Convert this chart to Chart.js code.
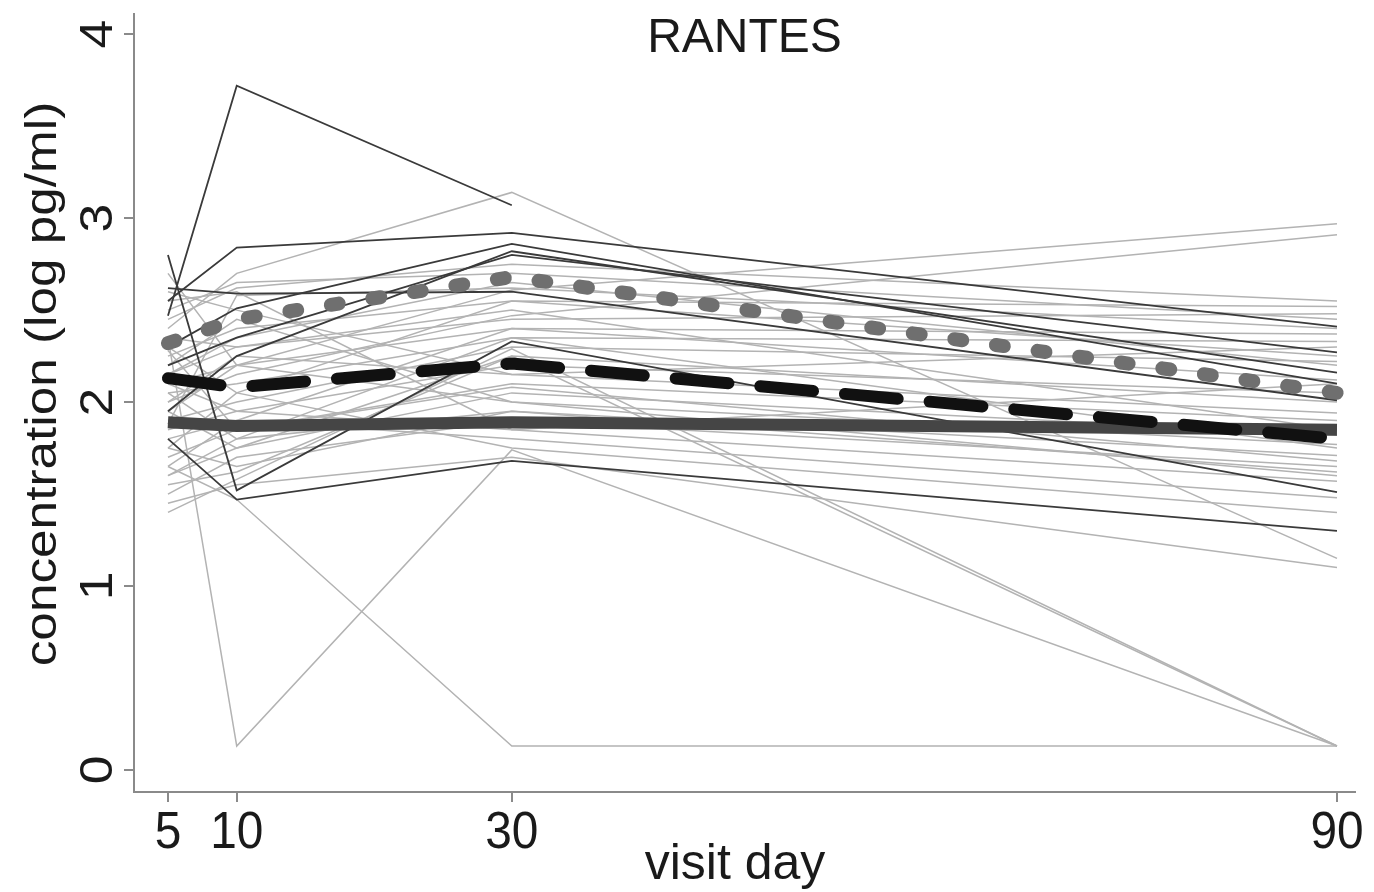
<!DOCTYPE html>
<html>
<head>
<meta charset="utf-8">
<script src="https://cdn.jsdelivr.net/npm/chart.js@4.4.1/dist/chart.umd.min.js"></script>
<style>
  html, body { margin: 0; padding: 0; background: #fff; }
  #wrap { width: 1374px; height: 892px; }
</style>
</head>
<body>
<div id="wrap"><canvas id="chartRantes" width="1374" height="892"></canvas></div>
<script>
// Datos
const days = [5, 10, 30, 90];
const yTicks = [0, 1, 2, 3, 4];

// sujetos (gris claro)
const grey = [
  [2.40, 2.70, 3.14, 1.15],
  [2.35, 0.13, 1.74, 0.13],
  [1.65, 1.47, 0.13, 0.13],
  [1.40, 1.58, 2.29, 0.13],
  [1.55, 1.62, 2.25, 0.13],
  [2.10, 2.20, 2.61, 2.97],
  [2.00, 2.15, 2.47, 2.91],
  [2.45, 2.62, 2.75, 2.55],
  [2.25, 2.40, 2.55, 2.52],
  [2.15, 2.30, 2.45, 2.48],
  [1.95, 2.20, 2.40, 2.37],
  [2.05, 2.10, 2.35, 2.33],
  [1.90, 2.00, 2.30, 2.22],
  [1.85, 1.95, 2.20, 2.05],
  [2.60, 2.50, 2.15, 1.94],
  [1.70, 1.85, 2.10, 1.90],
  [1.60, 1.75, 2.05, 1.82],
  [2.70, 2.20, 2.00, 1.77],
  [1.75, 1.65, 1.95, 1.71],
  [1.50, 1.70, 1.90, 1.65],
  [2.55, 2.60, 1.85, 1.57],
  [1.80, 1.90, 1.80, 1.48],
  [2.30, 2.05, 1.75, 1.40],
  [1.45, 1.55, 1.70, 1.10],
  [2.20, 2.45, 2.00, 1.60],
  [1.95, 1.75, 2.25, 2.00],
  [2.50, 2.65, 2.70, 2.45],
  [2.00, 2.25, 2.15, 2.30],
  [1.60, 1.80, 2.35, 1.75],
  [2.10, 1.95, 1.85, 2.10],
  [2.35, 2.30, 2.50, 1.85],
  [1.88, 2.58, 2.62, 2.40],
  [2.28, 1.85, 2.08, 1.68],
  [2.15, 2.35, 2.65, 2.20],
  [1.75, 2.05, 2.55, 2.25],
  [2.05, 1.80, 1.95, 1.62],
  [1.65, 1.90, 2.40, 2.12]
];

// sujetos (oscuro)
const dark = [
  [2.47, 3.72, 3.07, null],
  [2.55, 2.84, 2.92, 2.41],
  [2.30, 2.51, 2.86, 2.10],
  [2.80, 1.52, 2.33, 1.51],
  [1.80, 1.47, 1.68, 1.30],
  [2.62, 2.59, 2.60, 2.01],
  [2.20, 2.35, 2.80, 2.27],
  [1.95, 2.25, 2.82, 2.16]
];

// resumen
const medianLine = [1.89, 1.87, 1.89, 1.85];
const meanLine = [2.13, 2.08, 2.21, 1.80];
const upperLine = [2.32, 2.45, 2.68, 2.05];

const toPts = vals => days.map((d, i) => ({ x: d, y: vals[i] }));

const datasets = [];
datasets.push({ data: toPts(upperLine), borderColor: '#6f6f6f', borderWidth: 14, borderDash: [8, 34], borderCapStyle: 'round', order: 0 });
datasets.push({ data: toPts(meanLine), borderColor: '#111', borderWidth: 12, borderDash: [53, 32], borderCapStyle: 'round', order: 0 });
datasets.push({ data: toPts(medianLine), borderColor: '#454545', borderWidth: 12, order: 0 });
dark.forEach(v => datasets.push({ data: toPts(v), borderColor: '#3a3a3a', borderWidth: 1.8, order: 1 }));
grey.forEach(v => datasets.push({ data: toPts(v), borderColor: '#b3b3b3', borderWidth: 1.5, order: 2 }));

// Textos
function txt(ctx, s, x, y, rot, sx, font) {
  ctx.save();
  ctx.translate(x, y); ctx.rotate(rot); ctx.scale(sx, 1);
  ctx.font = font; ctx.fillStyle = '#1a1a1a'; ctx.textAlign = 'center'; ctx.textBaseline = 'alphabetic';
  ctx.fillText(s, 0, 0);
  ctx.restore();
}

const labelsPlugin = {
  id: 'labels',
  afterDraw(chart) {
    const ctx = chart.ctx, xs = chart.scales.x, ys = chart.scales.y;
    const fam = '"Liberation Sans", Arial, sans-serif';
    days.forEach(d => txt(ctx, String(d), xs.getPixelForValue(d), 848, 0, 0.92, '52px ' + fam));
    yTicks.forEach(v => txt(ctx, String(v), 112, ys.getPixelForValue(v), -Math.PI / 2, 1.12, '46px ' + fam));
    txt(ctx, 'RANTES', (chart.chartArea.left + chart.chartArea.right) / 2, 52, 0, 1, '48px ' + fam);
    txt(ctx, 'visit day', 735, 879, 0, 1, '50px ' + fam);
    txt(ctx, 'concentration (log pg/ml)', 56, 384, -Math.PI / 2, 1.14, '45px ' + fam);
  }
};

const axisStyle = {
  grid: { display: true, drawOnChartArea: false, drawTicks: true, tickLength: 10, color: '#8a8a8a', lineWidth: 2 },
  border: { display: true, color: '#8a8a8a', width: 2 },
  ticks: { display: false }
};

new Chart(document.getElementById('chartRantes').getContext('2d'), {
  type: 'line',
  data: { datasets: datasets },
  options: {
    responsive: false, animation: false, devicePixelRatio: 1,
    layout: { padding: { top: 14, right: 19, left: 0, bottom: 0 } },
    elements: { point: { radius: 0 }, line: { tension: 0 } },
    spanGaps: false,
    plugins: { legend: { display: false }, tooltip: { enabled: false } },
    scales: {
      x: Object.assign({ type: 'linear', min: 2.53, max: 91.31,
        afterBuildTicks: s => { s.ticks = days.map(v => ({ value: v })); },
        afterFit: s => { s.height = 100; s.paddingLeft = 0; s.paddingRight = 0; } }, axisStyle),
      y: Object.assign({ type: 'linear', min: -0.12, max: 4.11,
        afterBuildTicks: s => { s.ticks = yTicks.map(v => ({ value: v })); },
        afterFit: s => { s.width = 134; s.paddingTop = 0; s.paddingBottom = 0; } }, axisStyle)
    }
  },
  plugins: [labelsPlugin]
});
</script>
</body>
</html>
